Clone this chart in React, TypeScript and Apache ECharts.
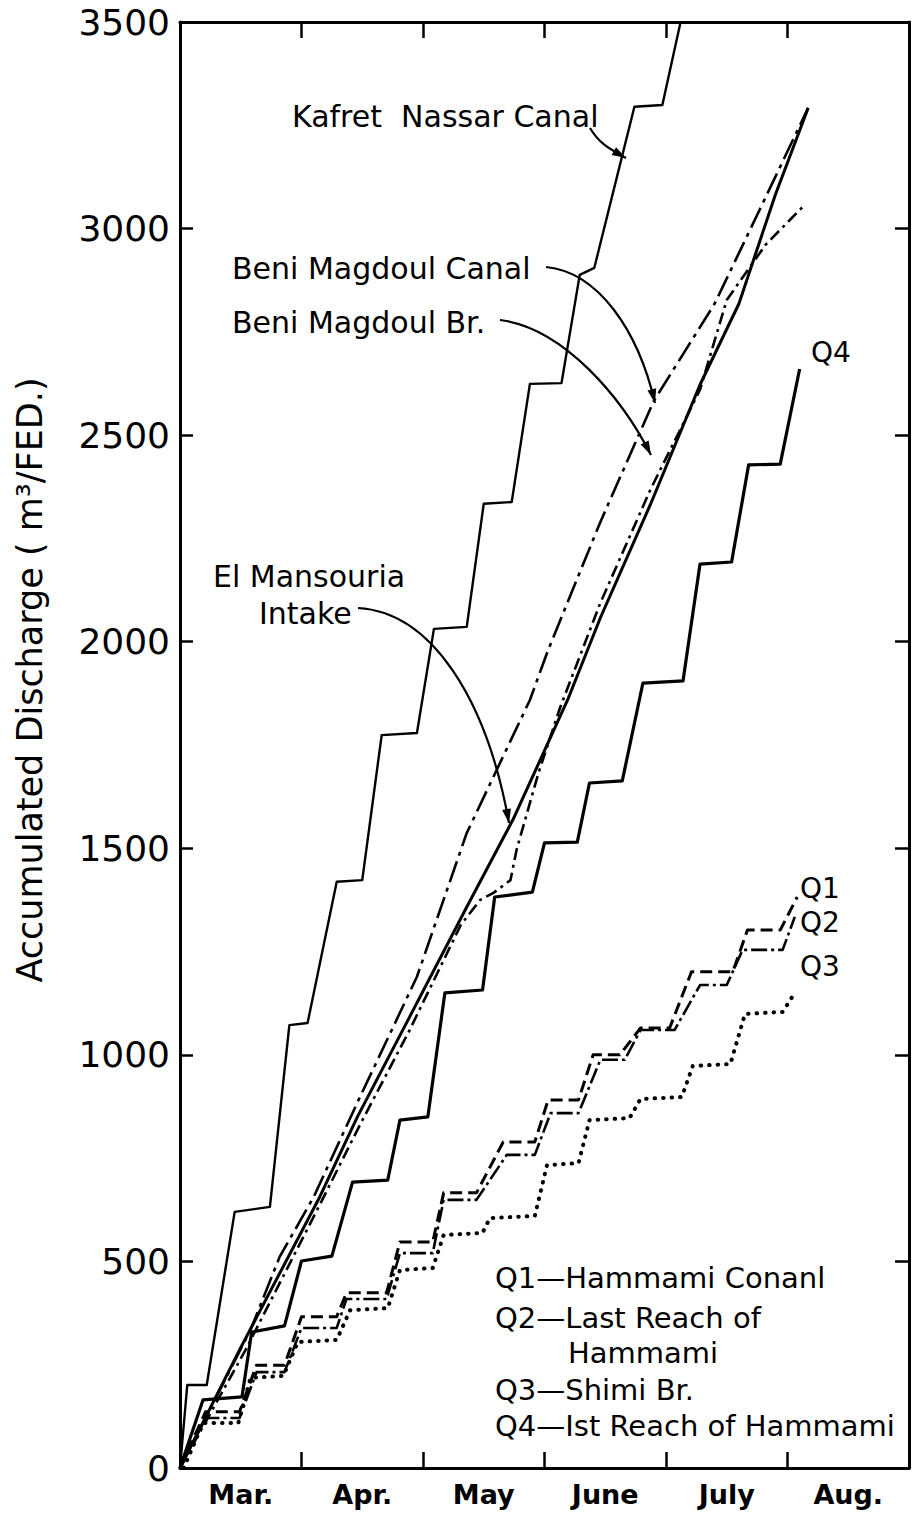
import React, { useEffect, useRef } from 'react';
import * as echarts from 'echarts';

// x values are months elapsed since 1 March (0 = start of March, 6 = end of August)
const months = ['Mar.', 'Apr.', 'May', 'June', 'July', 'Aug.'];
const yMin = 0;
const yMax = 3500;
const yStep = 500;

const kafretNassar: [number, number][] = [
  [0, 0], [0.06, 201], [0.22, 201], [0.45, 620], [0.74, 632], [0.9, 1072], [1.05, 1077],
  [1.29, 1419], [1.5, 1423], [1.66, 1774], [1.95, 1779], [2.09, 2031], [2.36, 2036],
  [2.5, 2334], [2.73, 2338], [2.88, 2624], [3.14, 2626], [3.29, 2888], [3.41, 2905],
  [3.74, 3295], [3.97, 3299], [4.12, 3500],
];

const beniMagdoulCanal: [number, number][] = [
  [0, 0], [0.58, 334], [0.82, 511], [1.1, 656], [1.47, 891], [1.95, 1189], [2.36, 1537],
  [2.88, 1859], [3.03, 1980], [3.46, 2290], [3.9, 2583], [4.4, 2818], [4.77, 3045], [5.17, 3292],
];

const elMansouriaIntake: [number, number][] = [
  [0, 0], [0.49, 286], [1.15, 656], [1.46, 850], [1.89, 1092], [2.36, 1358], [2.74, 1569],
  [3.19, 1859], [3.46, 2058], [3.87, 2331], [4.28, 2622], [4.6, 2818], [4.9, 3082], [5.17, 3292],
];

const beniMagdoulBr: [number, number][] = [
  [0, 0], [0.54, 286], [1.15, 637], [1.48, 830], [1.89, 1060], [2.31, 1314], [2.47, 1375],
  [2.58, 1392], [2.72, 1423], [2.77, 1496], [2.95, 1682], [3.13, 1842], [3.46, 2094],
  [3.87, 2367], [4.28, 2610], [4.5, 2827], [4.82, 2961], [5.14, 3057],
];

const q1HammamiCanal: [number, number][] = [
  [0, 0], [0.21, 136], [0.49, 136], [0.63, 249], [0.86, 249], [1.0, 366], [1.29, 366],
  [1.37, 424], [1.7, 424], [1.81, 547], [2.08, 547], [2.17, 666], [2.44, 666], [2.66, 789],
  [2.92, 789], [3.03, 891], [3.28, 891], [3.4, 1000], [3.62, 1000], [3.79, 1065], [4.03, 1065],
  [4.21, 1201], [4.55, 1201], [4.67, 1302], [4.94, 1302], [5.08, 1382],
];

const q2LastReach: [number, number][] = [
  [0, 0], [0.21, 121], [0.49, 121], [0.63, 232], [0.86, 232], [1.0, 339], [1.29, 339],
  [1.37, 409], [1.7, 409], [1.81, 520], [2.08, 520], [2.17, 649], [2.44, 649], [2.69, 758],
  [2.92, 758], [3.05, 859], [3.28, 859], [3.46, 988], [3.66, 988], [3.79, 1060], [4.07, 1060],
  [4.28, 1169], [4.5, 1169], [4.63, 1254], [4.96, 1254], [5.06, 1334],
];

const q3ShimiBr: [number, number][] = [
  [0.03, 0], [0.19, 109], [0.48, 109], [0.58, 218], [0.85, 223], [0.97, 305], [1.29, 310],
  [1.4, 382], [1.71, 387], [1.81, 479], [2.08, 484], [2.17, 564], [2.49, 569], [2.55, 605],
  [2.92, 610], [3.02, 733], [3.28, 738], [3.37, 842], [3.7, 847], [3.79, 893], [4.13, 898],
  [4.22, 973], [4.53, 978], [4.65, 1099], [4.96, 1104], [5.06, 1150],
];

const q4FirstReach: [number, number][] = [
  [0, 0], [0.19, 165], [0.51, 172], [0.59, 329], [0.86, 344], [1.0, 501], [1.25, 513],
  [1.42, 692], [1.71, 697], [1.81, 842], [2.04, 850], [2.18, 1150], [2.49, 1157],
  [2.59, 1382], [2.9, 1394], [3.0, 1513], [3.27, 1515], [3.37, 1658], [3.64, 1663],
  [3.81, 1900], [4.14, 1905], [4.28, 2188], [4.54, 2193], [4.68, 2428], [4.94, 2430], [5.1, 2660],
];

const legendLines = [
  'Q1—Hammami Conanl',
  'Q2—Last Reach of',
  'Hammami',
  'Q3—Shimi Br.',
  'Q4—Ist Reach of Hammami',
];

const FONT = '"DejaVu Sans", sans-serif';

function arrowHead(tx: number, ty: number, fx: number, fy: number, len = 14, half = 4.5) {
  const dx = tx - fx;
  const dy = ty - fy;
  const d = Math.sqrt(dx * dx + dy * dy) || 1;
  const ux = dx / d;
  const uy = dy / d;
  const bx = tx - ux * len;
  const by = ty - uy * len;
  return {
    type: 'polygon',
    shape: { points: [[tx, ty], [bx - uy * half, by + ux * half], [bx + uy * half, by - ux * half]] },
    style: { fill: '#000' },
    z: 100,
  };
}

function curve(x1: number, y1: number, c1x: number, c1y: number, c2x: number, c2y: number, x2: number, y2: number) {
  return [
    {
      type: 'bezierCurve',
      shape: { x1, y1, cpx1: c1x, cpy1: c1y, cpx2: c2x, cpy2: c2y, x2, y2 },
      style: { stroke: '#000', lineWidth: 2.2, fill: null },
      z: 100,
    },
    arrowHead(x2, y2, c2x, c2y),
  ];
}

function label(text: string, x: number, y: number, size = 30, align = 'left', weight = 'normal') {
  return {
    type: 'text',
    x,
    y,
    z: 100,
    style: {
      text,
      fill: '#000',
      fontSize: size,
      fontFamily: FONT,
      fontWeight: weight,
      align,
      verticalAlign: 'middle',
      textAlign: align,
      textVerticalAlign: 'middle',
    },
  };
}

function lineSeries(name: string, data: [number, number][], width: number, type: any, cap = 'butt') {
  return {
    name,
    type: 'line',
    xAxisIndex: 2,
    yAxisIndex: 0,
    data,
    symbol: 'none',
    smooth: false,
    lineStyle: { color: '#000', width, type, cap, join: 'round' },
    z: 10,
  };
}

export default function App() {
  const ref = useRef<HTMLDivElement>(null);

  useEffect(() => {
    document.body.style.margin = '0';
    const chart = echarts.init(ref.current as HTMLDivElement, null, { renderer: 'svg' });

    const axisLineStyle = { color: '#000', width: 3 };
    const tickStyle = { color: '#000', width: 2.5 };

    const graphics: any[] = [
      label('Kafret  Nassar Canal', 292, 116),
      label('Beni Magdoul Canal', 232, 268),
      label('Beni Magdoul Br.', 232, 322),
      label('El Mansouria', 213, 576),
      label('Intake', 259, 613),
      label('Q4', 811, 352, 28),
      label('Q1', 800, 888, 28),
      label('Q2', 800, 922, 28),
      label('Q3', 800, 966, 28),
      ...curve(590, 128, 600, 145, 612, 150, 626, 158),
      ...curve(546, 267, 598, 272, 638, 330, 655, 403),
      ...curve(500, 320, 564, 328, 622, 398, 651, 455),
      ...curve(358, 608, 432, 612, 487, 700, 509, 823),
      {
        type: 'text',
        x: 30,
        y: 680,
        rotation: Math.PI / 2,
        z: 100,
        style: {
          text: 'Accumulated Discharge ( m³/FED.)',
          fill: '#000',
          fontSize: 35,
          fontFamily: FONT,
          align: 'center',
          verticalAlign: 'middle',
          textAlign: 'center',
          textVerticalAlign: 'middle',
        },
      },
      label(legendLines[0], 495, 1278, 29),
      label(legendLines[1], 495, 1318, 29),
      label(legendLines[2], 568, 1353, 29),
      label(legendLines[3], 495, 1390, 29),
      label(legendLines[4], 495, 1426, 29),
    ];

    chart.setOption({
      animation: false,
      backgroundColor: '#fff',
      grid: { left: 180, right: 4, top: 22, bottom: 46, containLabel: false },
      xAxis: [
        {
          type: 'category',
          data: months,
          position: 'bottom',
          boundaryGap: true,
          axisLine: { show: true, onZero: false, lineStyle: axisLineStyle },
          axisTick: { show: true, inside: true, length: 16, alignWithLabel: false, interval: 0, lineStyle: tickStyle },
          axisLabel: { show: true, color: '#000', fontSize: 27, fontWeight: 'bold', fontFamily: FONT, margin: 13, interval: 0 },
          splitLine: { show: false },
        },
        {
          type: 'category',
          data: months,
          position: 'top',
          boundaryGap: true,
          axisLine: { show: true, onZero: false, lineStyle: axisLineStyle },
          axisTick: { show: true, inside: true, length: 16, alignWithLabel: false, interval: 0, lineStyle: tickStyle },
          axisLabel: { show: false },
          splitLine: { show: false },
        },
        {
          type: 'value',
          min: 0,
          max: months.length,
          show: false,
          splitLine: { show: false },
        },
      ],
      yAxis: [
        {
          type: 'value',
          min: yMin,
          max: yMax,
          interval: yStep,
          position: 'left',
          axisLine: { show: true, onZero: false, lineStyle: axisLineStyle },
          axisTick: { show: true, inside: true, length: 13, lineStyle: tickStyle },
          axisLabel: {
            show: true,
            color: '#000',
            fontSize: 36,
            fontFamily: FONT,
            margin: 10,
            formatter: (v: number) => String(v),
          },
          splitLine: { show: false },
        },
        {
          type: 'value',
          min: yMin,
          max: yMax,
          interval: yStep,
          position: 'right',
          axisLine: { show: true, onZero: false, lineStyle: axisLineStyle },
          axisTick: { show: true, inside: true, length: 14, lineStyle: tickStyle },
          axisLabel: { show: false },
          splitLine: { show: false },
        },
      ],
      series: [
        lineSeries('Kafret Nassar Canal', kafretNassar, 2.4, 'solid'),
        lineSeries('Beni Magdoul Canal', beniMagdoulCanal, 2.6, [22, 6, 4, 6]),
        lineSeries('El Mansouria Intake', elMansouriaIntake, 3, 'solid'),
        lineSeries('Beni Magdoul Br.', beniMagdoulBr, 2.6, [12, 5, 3, 5]),
        lineSeries('Q1 Hammami Conanl', q1HammamiCanal, 3, [12, 6]),
        lineSeries('Q2 Last Reach of Hammami', q2LastReach, 2.6, [16, 4, 3, 4]),
        lineSeries('Q3 Shimi Br.', q3ShimiBr, 4, [0.5, 8], 'round'),
        lineSeries('Q4 Ist Reach of Hammami', q4FirstReach, 3.2, 'solid'),
      ],
      graphic: graphics,
    });

    return () => chart.dispose();
  }, []);

  return (
    <div
      ref={ref}
      style={{ position: 'absolute', left: 0, top: 0, width: 913, height: 1514, background: '#fff' }}
    />
  );
}
